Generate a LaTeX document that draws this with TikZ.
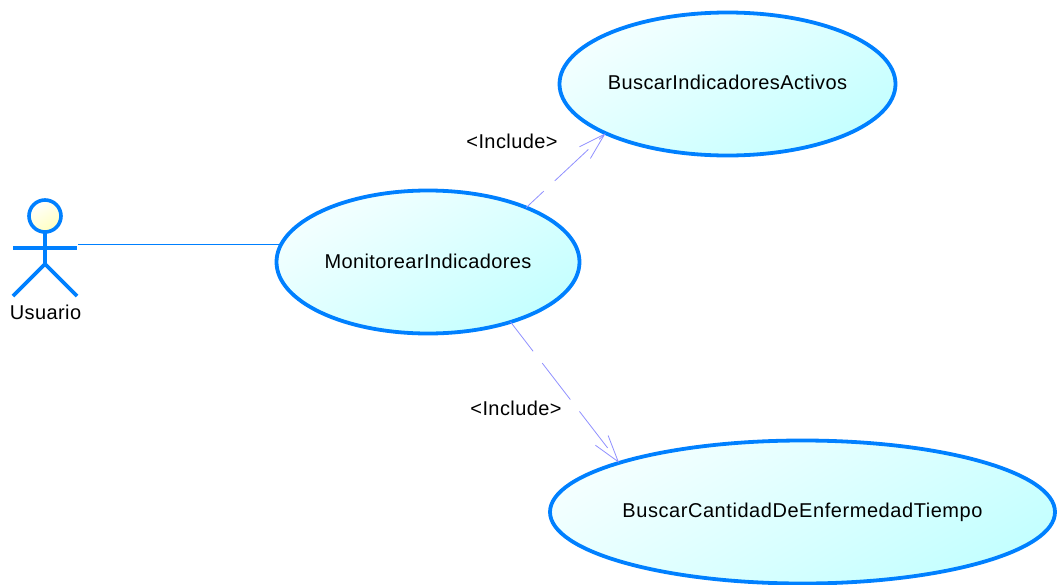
\documentclass[tikz,border=0pt]{standalone}
\usepackage{fontspec}
\setmainfont[LetterSpace=2]{Liberation Sans}
\usetikzlibrary{shapes.geometric,arrows.meta}
\definecolor{umlblue}{HTML}{0080FF}
\definecolor{deplilac}{HTML}{9090FF}
\definecolor{fillpale}{HTML}{F4FFFF}
\definecolor{fillcyan}{HTML}{C4FFFF}
\tikzset{
  usecase/.style={ellipse,draw=umlblue,line width=3.8pt,inner sep=0pt,outer sep=0pt,
    top color=fillpale,bottom color=fillcyan,shading angle=30,
    font=\fontsize{20}{23}\selectfont,text=black},
  actorline/.style={draw=umlblue,line width=3.6pt},
  assoc/.style={draw=umlblue,line width=0.9pt},
  incl/.style={draw=deplilac,line width=0.8pt,dash pattern=on 46pt off 15pt,
    -{Straight Barb[length=27pt,width=16pt,line width=0.8pt]}},
  lbl/.style={font=\fontsize{20}{23}\selectfont,text=black,inner sep=0pt}
}
\begin{document}
\begin{tikzpicture}[x=1pt,y=-1pt]
\useasboundingbox (0,0) rectangle (1058,584);
\clip (0,0) rectangle (1058,584);
\node[usecase,minimum width=303pt,minimum height=143pt] (main) at (428,262) {\raisebox{2pt}{\makebox[0pt]{MonitorearIndicadores}}};
\node[usecase,minimum width=336pt,minimum height=143pt] (top) at (727.5,84) {\raisebox{3pt}{\makebox[0pt]{BuscarIndicadoresActivos}}};
\node[usecase,minimum width=505pt,minimum height=143pt] (bot) at (802.5,512) {\raisebox{-2pt}{\makebox[0pt]{\addfontfeature{LetterSpace=2.8}BuscarCantidadDeEnfermedadTiempo}}};
% actor
\node[circle,draw=umlblue,line width=3.6pt,inner sep=0pt,minimum size=32pt,outer sep=0pt,
  top color=white,bottom color=yellow!25,shading angle=30] (head) at (45,216) {};
\coordinate (hip) at (45,264);
\coordinate (armL) at (13,248);
\coordinate (armR) at (77,248);
\coordinate (legL) at (13,296);
\coordinate (legR) at (77,296);
\draw[actorline] (head.south) -- (hip);
\draw[actorline] (armL) -- (armR);
\draw[actorline] (legL) -- (hip) -- (legR);
\node[lbl] (usr) at (45.5,312) {Usuario};
% connectors
\coordinate (actorEnd) at (78,244);
\coordinate (mainW) at (main.173);
\draw[assoc] (actorEnd) -- (actorEnd -| mainW);
\draw[incl,dash phase=22pt] (main.29) -- (top.202.4);
\draw[incl,dash phase=9pt] (main.-36.9) -- (bot.165);
\node[lbl] (l1) at (512,141) {<Include>};
\node[lbl] (l2) at (516,408) {<Include>};
\end{tikzpicture}
\end{document}
